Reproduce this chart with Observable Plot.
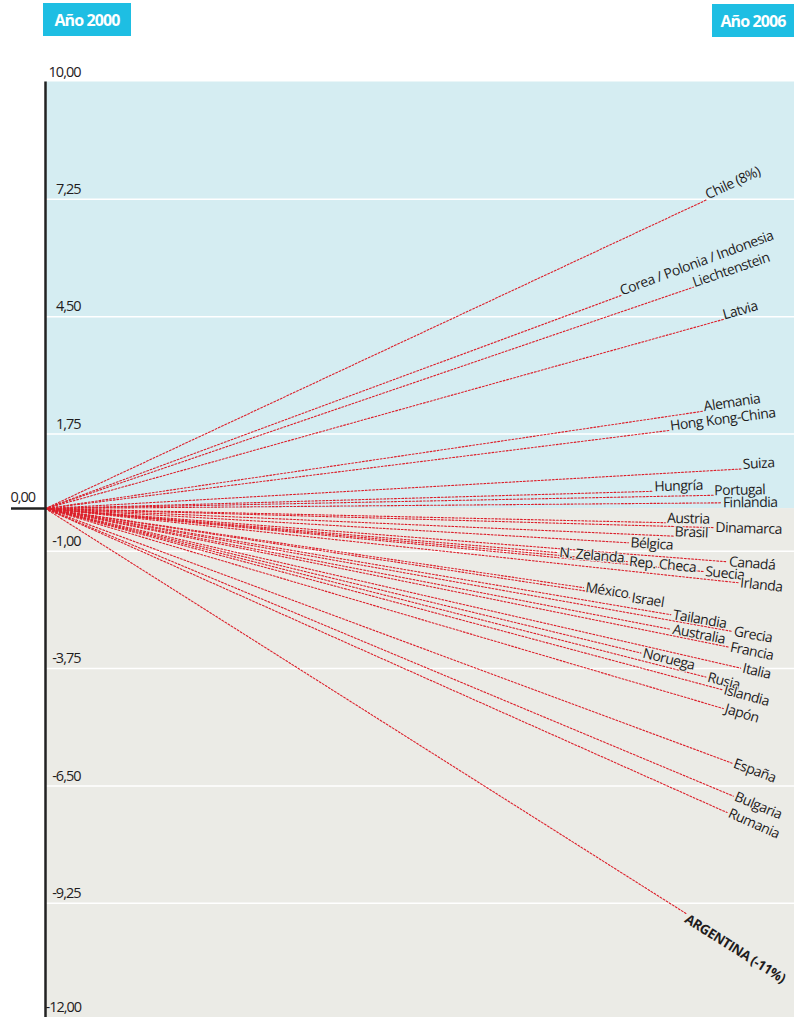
<!DOCTYPE html>
<html>
<head>
<meta charset="utf-8">
<script src="https://cdn.jsdelivr.net/npm/d3@7"></script>
<script src="https://cdn.jsdelivr.net/npm/@observablehq/plot@0.6"></script>
<style>
  html, body { margin: 0; padding: 0; background: #fff; }
  #wrap { position: relative; width: 794px; height: 1017px; overflow: hidden; }
  .tag { position: absolute; background: #1ebee3; color: #fff; font-family: "Open Sans", sans-serif;
         font-weight: 700; font-size: 16px; letter-spacing: -0.9px; display: flex; align-items: center;
         justify-content: center; z-index: 2; }
  #chart { position: absolute; left: 0; top: 0; }
  #chart svg text { letter-spacing: -0.5px; }
  #chart svg g[aria-label="y-axis tick label"] text { letter-spacing: -1px; }
</style>
</head>
<body>
<div id="wrap">
  <div class="tag" style="left:43px;top:3px;width:88px;height:33px;">Año 2000</div>
  <div class="tag" style="left:712px;top:4px;width:82px;height:33px;">Año 2006</div>
  <div id="chart"></div>
</div>
<script>
// ---- data ----
const countries = ["Chile (8%)", "Corea / Polonia / Indonesia", "Liechtenstein", "Latvia", "Alemania",
  "Hong Kong-China", "Suiza", "Hungría", "Portugal", "Finlandia", "Austria", "Dinamarca", "Brasil",
  "Bélgica", "Canadá", "N. Zelanda", "Rep. Checa", "Suecia", "Irlanda", "México", "Israel", "Tailandia",
  "Grecia", "Australia", "Francia", "Italia", "Noruega", "Rusia", "Islandia", "Japón", "España",
  "Bulgaria", "Rumania", "ARGENTINA (-11%)"];
const change2006 = [8.2, 6.5, 6.0, 4.9, 2.6, 2.2, 1.0, 0.5, 0.35, 0.15, -0.4, -0.5, -0.77,
  -1.03, -1.37, -1.51, -1.6, -1.68, -1.88, -2.58, -2.68, -2.98,
  -3.14, -3.39, -3.56, -4.03, -4.26, -4.48, -4.7, -5.18, -6.51,
  -7.34, -7.83, -11.1];
// year (between 2000 and 2006) where each dotted line stops and its label begins
const labelAt = [2005.30, 2004.61, 2005.19, 2005.43, 2005.27, 2005.00, 2005.58, 2004.87, 2005.35,
  2005.41, 2004.97, 2005.35, 2005.03, 2004.67, 2005.46, 2004.10, 2004.66, 2005.27, 2005.55,
  2004.31, 2004.68, 2005.01, 2005.50, 2005.01, 2005.47, 2005.57, 2004.77, 2005.29, 2005.42,
  2005.43, 2005.50, 2005.51, 2005.46, 2005.13];
const yTicks = [10, 7.25, 4.5, 1.75, 0, -1, -3.75, -6.5, -9.25, -12];
const yearStart = 2000, yearEnd = 2006;

// ---- layout ----
const W = 794, H = 1020, ML = 45, MT = 81.5, MB = 0, MR = 0;
const pxPerYear = (W - ML - MR) / (yearEnd - yearStart);
const pxPerUnit = (H - MT - MB) / 22;
const blue = "#d5edf2", gray = "#ebebe6", red = "#dc1f2a", ink = "#1f1c1d";
const fmt = d => (d < 0 ? "-" : "") + Math.abs(d).toFixed(2).replace(".", ",");

const rows = countries.map((c, i) => {
  const v = change2006[i];
  const t = (labelAt[i] - yearStart) / (yearEnd - yearStart);
  const angle = -Math.atan2(v * pxPerUnit, (yearEnd - yearStart) * pxPerYear) * 180 / Math.PI;
  let anchor = v > 0 && c !== "Finlandia" ? "bottom" : "middle";
  if (c === "Austria" || c === "Brasil") anchor = "bottom";
  if (c.startsWith("ARGENTINA")) anchor = "top";
  return {country: c, change: v, year: labelAt[i], value: v * t, angle, anchor,
          bg: v > 0 ? blue : gray};
});
const segs = rows.flatMap(r => [
  {country: r.country, year: yearStart, value: 0},
  {country: r.country, year: r.year, value: r.value}
]);

const labelMark = (anchor, extra) => Plot.text(rows.filter(r => r.anchor === anchor), {
  x: "year", y: "value", text: "country", rotate: "angle",
  textAnchor: "start", lineAnchor: anchor, fill: ink, stroke: "bg", strokeWidth: 2,
  dx: anchor === "bottom" ? 1 : 2, fontSize: 14, ...extra
});

const chart = Plot.plot({
  width: W, height: H,
  marginLeft: ML, marginTop: MT, marginBottom: MB, marginRight: MR,
  x: {domain: [yearStart, yearEnd], axis: null},
  y: {domain: [-12, 10], axis: null},
  style: {fontFamily: "'Open Sans', sans-serif", fontSize: "14px", background: "transparent", overflow: "visible"},
  marks: [
    Plot.rect([{x1: yearStart, x2: yearEnd, y1: 0, y2: 10}], {x1: "x1", x2: "x2", y1: "y1", y2: "y2", fill: blue}),
    Plot.rect([{x1: yearStart, x2: yearEnd, y1: -12, y2: 0}], {x1: "x1", x2: "x2", y1: "y1", y2: "y2", fill: gray}),
    Plot.ruleY(yTicks.filter(t => t !== 0 && t !== 10 && t !== -12), {stroke: "#fff", strokeWidth: 1.5}),
    Plot.line(segs, {x: "year", y: "value", z: "country", stroke: red, strokeWidth: 1.1, strokeDasharray: "1.8,1.8"}),
    labelMark("bottom"),
    labelMark("middle"),
    labelMark("top", {fontWeight: 700, fontSize: 13.5, dx: 3}),
    Plot.ruleX([yearStart], {y1: -12, y2: 10, stroke: "#222", strokeWidth: 2.5, insetTop: -2}),
    Plot.axisY([0], {tickSize: 34, tickFormat: () => "", color: "#222", strokeWidth: 2.5}),
    Plot.axisY([0], {tickSize: 0, tickPadding: 0, dx: -35, dy: -11, textAnchor: "start", tickFormat: fmt,
      fontSize: 14.5, color: ink}),
    Plot.axisY(yTicks.filter(t => t !== 0 && t !== -12), {tickSize: 0, tickPadding: 0, dx: 35, dy: -10, textAnchor: "end",
      tickFormat: fmt, fontSize: 14.5, color: ink}),
    Plot.axisY([-12], {tickSize: 0, tickPadding: 0, dx: 0, dy: -13, textAnchor: "start",
      tickFormat: fmt, fontSize: 14.5, color: ink})
  ]
});
document.getElementById("chart").appendChild(chart);
</script>
</body>
</html>
